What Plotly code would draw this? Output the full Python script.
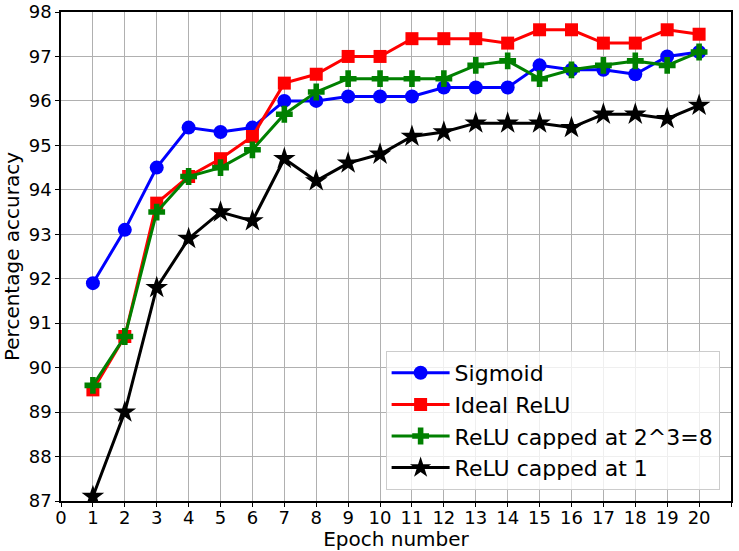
import plotly.graph_objects as go

epochs = list(range(1, 21))

sigmoid = [91.9, 93.1, 94.5, 95.4, 95.3, 95.4, 96.0, 96.0, 96.1, 96.1,
           96.1, 96.3, 96.3, 96.3, 96.8, 96.7, 96.7, 96.6, 97.0, 97.1]
ideal_relu = [89.5, 90.7, 93.7, 94.3, 94.7, 95.2, 96.4, 96.6, 97.0, 97.0,
              97.4, 97.4, 97.4, 97.3, 97.6, 97.6, 97.3, 97.3, 97.6, 97.5]
relu_cap8 = [89.6, 90.7, 93.5, 94.3, 94.5, 94.9, 95.7, 96.2, 96.5, 96.5,
             96.5, 96.5, 96.8, 96.9, 96.5, 96.7, 96.8, 96.9, 96.8, 97.1]
relu_cap1 = [87.1, 89.0, 91.8, 92.9, 93.5, 93.3, 94.7, 94.2, 94.6, 94.8,
             95.2, 95.3, 95.5, 95.5, 95.5, 95.4, 95.7, 95.7, 95.6, 95.9]

series = [
    ("Sigmoid", sigmoid, "blue", "circle", 14),
    ("Ideal ReLU", ideal_relu, "red", "square", 13),
    ("ReLU capped at 2^3=8", relu_cap8, "green", "cross", 14),
    ("ReLU capped at 1", relu_cap1, "black", "star", 17),
]

fig = go.Figure()
for name, vals, color, symbol, size in series:
    fig.add_trace(go.Scatter(
        x=epochs, y=vals, mode="lines+markers", name=name,
        line=dict(color=color, width=3),
        marker=dict(symbol=symbol, size=size, color=color, line=dict(width=0)),
    ))

axis_style = dict(
    showgrid=True, gridcolor="#b0b0b0", gridwidth=1,
    showline=True, linecolor="black", linewidth=1.5, mirror=True,
    ticks="outside", ticklen=4, tickcolor="black",
    tickfont=dict(size=18, color="black"), zeroline=False,
    automargin=False,
)

fig.update_layout(
    width=739, height=551,
    margin=dict(l=61, r=8, t=12, b=50),
    paper_bgcolor="white", plot_bgcolor="white",
    font=dict(family="DejaVu Sans", color="black"),
    xaxis=dict(range=[0, 21], dtick=1, tick0=0, ticklabelstandoff=-4,
               title=dict(text="Epoch number", font=dict(size=20), standoff=2),
               **axis_style),
    yaxis=dict(range=[87, 98], dtick=1,
               title=dict(text="Percentage accuracy", font=dict(size=20), standoff=4),
               **axis_style),
    legend=dict(x=0.983, y=0.0225, xanchor="right", yanchor="bottom",
                bgcolor="rgba(255,255,255,0.8)", bordercolor="#cccccc",
                borderwidth=1, font=dict(size=22), itemwidth=58),
)

# drop the default page margin so the figure sits at the window's corner
fig.write_html("out.html", config={"displayModeBar": False},
               post_script="document.body.style.margin='0px';"
                           "document.body.style.overflow='hidden';")
